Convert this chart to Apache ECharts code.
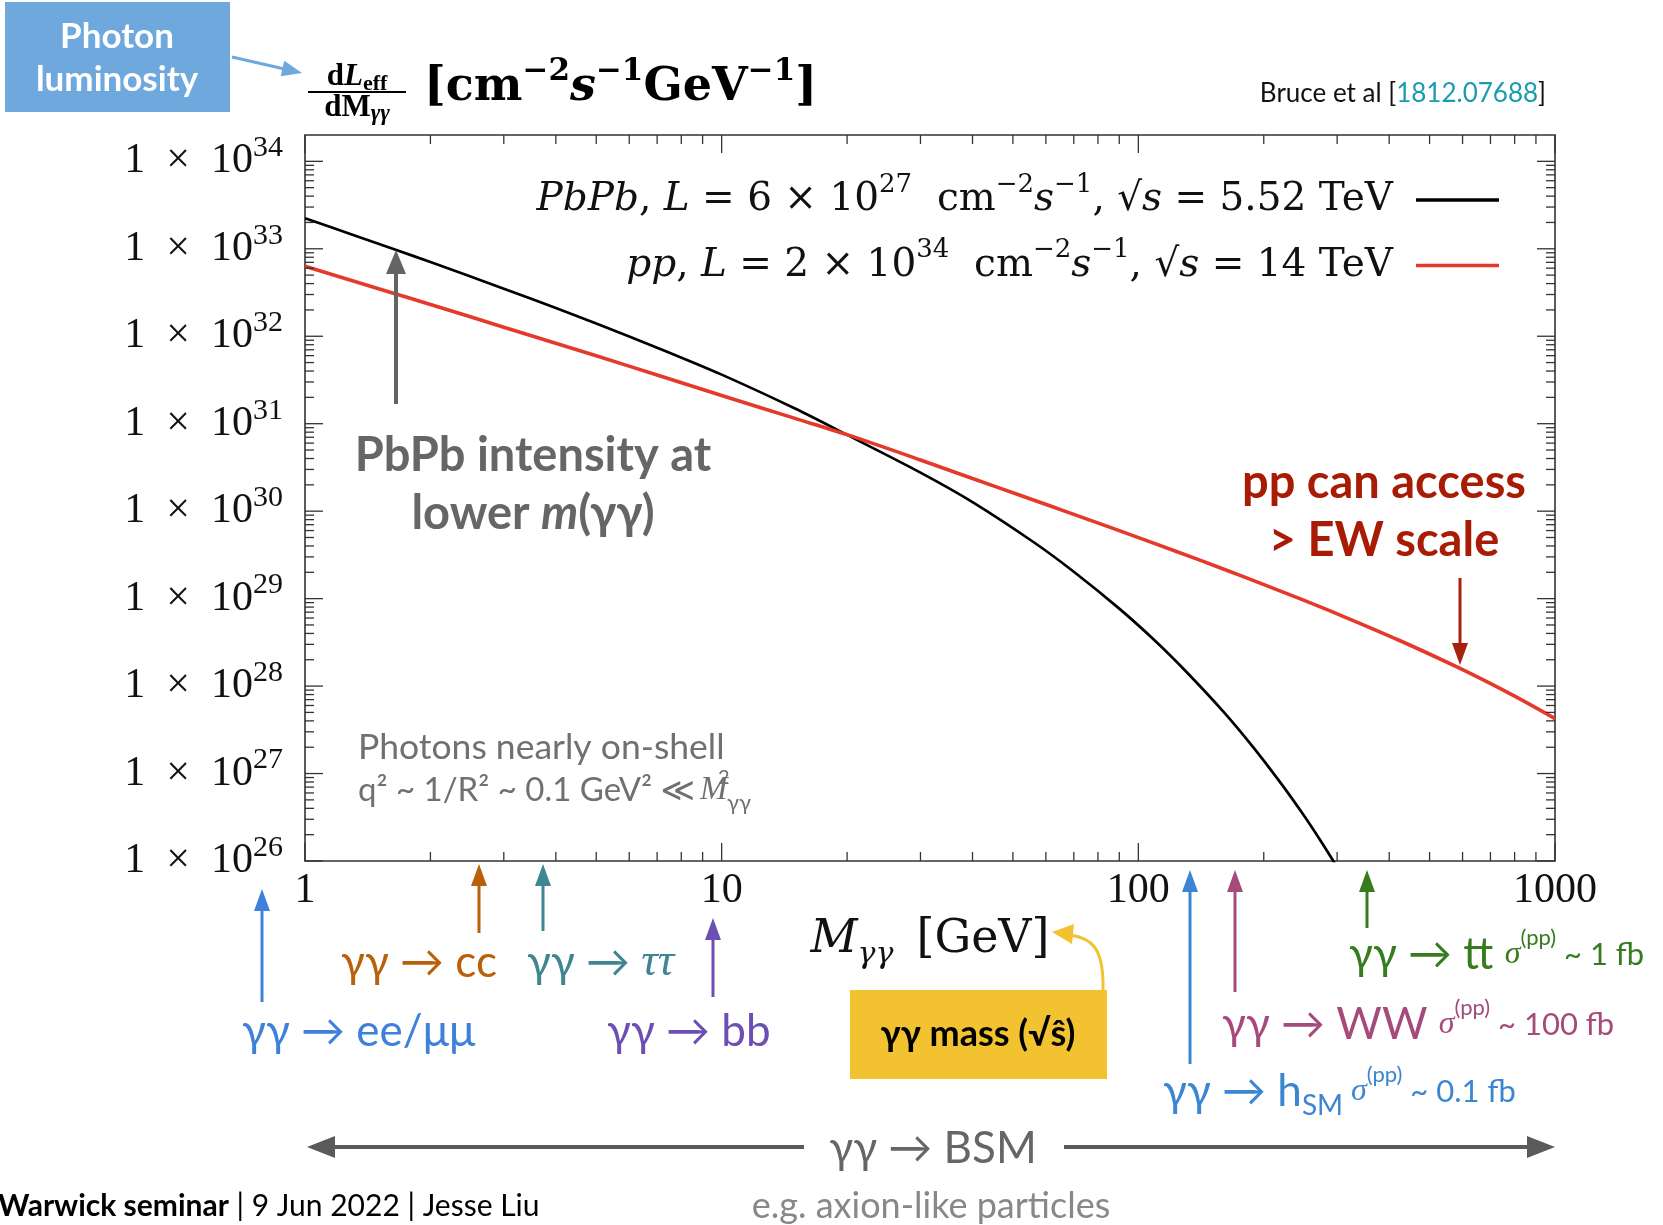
<!DOCTYPE html>
<html><head><meta charset="utf-8">
<script src="https://cdn.jsdelivr.net/npm/echarts@6.0.0/dist/echarts.min.js"></script>
<style>html,body{margin:0;padding:0;background:#fff}#c{width:1663px;height:1225px}</style>
</head><body><div id="c"></div>
<script>
// ---------- data ----------
const massPbPb = [1, 1.3, 1.65, 2, 3, 4, 5, 7, 10, 15, 20, 30, 40, 56, 70, 90, 110, 130, 160, 189, 220, 249, 275, 296, 320];
const lumiPbPb = [2.24e33, 1.45e33, 9.75e32, 7.05e32, 3.50e32, 2.10e32, 1.40e32, 7.40e31, 3.64e31, 1.49e31, 7.45e30, 2.76e30, 1.27e30, 4.44e29, 2.03e29, 7.69e28, 3.26e28, 1.48e28, 5.11e27, 1.98e27, 7.71e26, 3.37e26, 1.65e26, 9.44e25, 5.15e25];
const massPP = [1, 1.6, 2, 3, 5, 7, 10, 15, 20, 30, 40, 52, 70, 108, 140, 180, 244, 305, 425, 590, 800, 1000];
const lumiPP = [6.31e32, 3.19e32, 2.31e32, 1.27e32, 5.97e31, 3.61e31, 2.10e31, 1.15e31, 7.50e30, 3.85e30, 2.36e30, 1.52e30, 9.20e29, 4.37e29, 2.77e29, 1.76e29, 1.00e29, 6.49e28, 3.30e28, 1.60e28, 7.67e27, 4.25e27];
const xTickValues = [1, 10, 100, 1000];
const xTickLabels = ['1', '10', '100', '1000'];
const yTickExponents = [26, 27, 28, 29, 30, 31, 32, 33, 34];
const seriesNames = ['PbPb', 'pp'];

const xMinorTicks = [];
for (let k = 0; k < 3; k++) for (let m = 2; m <= 9; m++) xMinorTicks.push(m * Math.pow(10, k));
const yMajorTicks = yTickExponents.map(e => Math.pow(10, e));
const yMinorTicks = [];
for (let k = 26; k < 34; k++) for (let m = 2; m <= 9; m++) yMinorTicks.push(m * Math.pow(10, k));

const SERIF = "'Liberation Serif','DejaVu Serif',serif";
const DSERIF = "'DejaVu Serif','Liberation Serif',serif";
const SANS = "Lato,'Noto Sans','DejaVu Sans',sans-serif";
const EN = '\u2002';

function isPow10(v) { const e = Math.log10(v); return Math.abs(e - Math.round(e)) < 1e-6; }

function tickSeries(dim, majors, minors) {
  const raw = majors.map(v => [v, 1]).concat(minors.map(v => [v, 0]));
  return {
    type: 'custom', silent: true, z: 5,
    data: raw.map(d => dim === 'x' ? [d[0], 1e30, d[1]] : [10, d[0], d[1]]),
    encode: { x: 0, y: 1 },
    renderItem: function (params, api) {
      const cs = params.coordSys;
      const p = api.coord([api.value(0), api.value(1)]);
      const len = api.value(2) ? 18 : 9;
      const st = { stroke: '#333', lineWidth: 1.3 };
      if (dim === 'x') {
        return { type: 'group', children: [
          { type: 'line', shape: { x1: p[0], y1: cs.y + cs.height, x2: p[0], y2: cs.y + cs.height - len }, style: st },
          { type: 'line', shape: { x1: p[0], y1: cs.y, x2: p[0], y2: cs.y + len }, style: st }
        ]};
      }
      return { type: 'group', children: [
        { type: 'line', shape: { x1: cs.x, y1: p[1], x2: cs.x + len, y2: p[1] }, style: st },
        { type: 'line', shape: { x1: cs.x + cs.width, y1: p[1], x2: cs.x + cs.width - len, y2: p[1] }, style: st }
      ]};
    }
  };
}

function arrow(x1, y1, x2, y2, color, w, hl, hw) {
  const dx = x2 - x1, dy = y2 - y1, L = Math.hypot(dx, dy), ux = dx / L, uy = dy / L;
  const bx = x2 - ux * hl, by = y2 - uy * hl, px = -uy, py = ux;
  return [
    { type: 'line', z: 20, shape: { x1: x1, y1: y1, x2: bx + ux, y2: by + uy }, style: { stroke: color, lineWidth: w } },
    { type: 'polygon', z: 20, shape: { points: [[x2, y2], [bx + px * hw / 2, by + py * hw / 2], [bx - px * hw / 2, by - py * hw / 2]] }, style: { fill: color } }
  ];
}
function txt(x, y, text, opt) {
  return { type: 'text', z: 20, x: x, y: y, style: Object.assign({ text: text, align: 'left', verticalAlign: 'middle', fill: '#000', fontFamily: SANS, fontSize: 32 }, opt) };
}
function rtxt(x, y, text, rich, align) {
  return { type: 'text', z: 20, x: x, y: y, style: { text: text, align: align || 'left', verticalAlign: 'middle', rich: rich } };
}

const legendRich = {
  r: { fontFamily: DSERIF, fontSize: 39, color: '#111', lineHeight: 56 },
  i: { fontFamily: DSERIF, fontSize: 39, fontStyle: 'italic', color: '#111', lineHeight: 56 },
  s: { fontFamily: DSERIF, fontSize: 26, color: '#111', verticalAlign: 'top', lineHeight: 30 }
};
const legendText = {
  PbPb: '{i|PbPb}{r|, }{i|L}{r| = 6 × 10}{s|27}{r|  cm}{s|−2}{i|s}{s|−1}{r|, √}{i|s}{r| = 5.52 TeV}',
  pp: '{i|pp}{r|, }{i|L}{r| = 2 × 10}{s|34}{r|  cm}{s|−2}{i|s}{s|−1}{r|, √}{i|s}{r| = 14 TeV}'
};

function procRich(color) {
  return {
    m: { fontFamily: SANS, fontSize: 44, fill: color, lineHeight: 56 },
    gi: { fontFamily: SERIF, fontStyle: 'italic', fontSize: 46, fill: color, lineHeight: 56 },
    sub: { fontFamily: SANS, fontSize: 28, fill: color, verticalAlign: 'bottom', lineHeight: 34 },
    g: { fontFamily: SERIF, fontStyle: 'italic', fontSize: 32, fill: color, lineHeight: 56 },
    p: { fontFamily: SANS, fontSize: 22, fill: color, verticalAlign: 'top', lineHeight: 34 },
    t: { fontFamily: SANS, fontSize: 31, fill: color, lineHeight: 56 }
  };
}

const graphics = [];
// Photon luminosity box
graphics.push({ type: 'rect', z: 20, shape: { x: 5, y: 2, width: 225, height: 110 }, style: { fill: '#6fa8dc' } });
graphics.push(txt(117, 37, 'Photon', { align: 'center', fill: '#fff', fontWeight: 'bold', fontSize: 35 }));
graphics.push(txt(117, 80, 'luminosity', { align: 'center', fill: '#fff', fontWeight: 'bold', fontSize: 35 }));
graphics.push(...arrow(232, 57, 302, 73, '#6fa8dc', 3, 20, 16));
// y-axis title (fraction)
graphics.push(rtxt(357, 77, '{b|d}{bi|L}{bs|eff}', {
  b: { fontFamily: SERIF, fontWeight: 'bold', fontSize: 31, lineHeight: 36, fill: '#000' },
  bi: { fontFamily: SERIF, fontWeight: 'bold', fontStyle: 'italic', fontSize: 31, lineHeight: 36, fill: '#000' },
  bs: { fontFamily: SERIF, fontWeight: 'bold', fontSize: 22, verticalAlign: 'bottom', lineHeight: 26, fill: '#000' } }, 'center'));
graphics.push({ type: 'line', z: 20, shape: { x1: 308, y1: 92, x2: 406, y2: 92 }, style: { stroke: '#000', lineWidth: 2 } });
graphics.push(rtxt(357, 108, '{b|dM}{bs|γγ}', {
  b: { fontFamily: SERIF, fontWeight: 'bold', fontSize: 31, lineHeight: 36, fill: '#000' },
  bs: { fontFamily: SERIF, fontWeight: 'bold', fontStyle: 'italic', fontSize: 23, verticalAlign: 'bottom', lineHeight: 26, fill: '#000' } }, 'center'));
graphics.push(rtxt(424, 88, '{b|[cm}{s|−2}{bi|s}{s|−1}{b|GeV}{s|−1}{b|]}', {
  b: { fontFamily: DSERIF, fontWeight: 'bold', fontSize: 46, lineHeight: 64, fill: '#000' },
  bi: { fontFamily: DSERIF, fontWeight: 'bold', fontStyle: 'italic', fontSize: 46, lineHeight: 64, fill: '#000' },
  s: { fontFamily: DSERIF, fontWeight: 'bold', fontSize: 31, verticalAlign: 'top', lineHeight: 38, fill: '#000' } }));
// Bruce et al
graphics.push(rtxt(1546, 94, '{k|Bruce et al [}{b|1812.07688}{k|]}', {
  k: { fontFamily: SANS, fontSize: 26, fill: '#111' }, b: { fontFamily: SANS, fontSize: 26, fill: '#1a9bb0' } }, 'right'));
// PbPb intensity
graphics.push(txt(533, 456, 'PbPb intensity at', { align: 'center', fill: '#666', fontWeight: 'bold', fontSize: 47 }));
graphics.push(rtxt(533, 514, '{a|lower }{b|m}{a|(γγ)}', {
  a: { fontFamily: SANS, fontWeight: 'bold', fontSize: 47, fill: '#666' },
  b: { fontFamily: SANS, fontWeight: 'bold', fontStyle: 'italic', fontSize: 47, fill: '#666' } }, 'center'));
graphics.push(...arrow(396, 404, 396, 250, '#646464', 4, 24, 20));
// photons nearly on-shell
graphics.push(txt(358, 748, 'Photons nearly on-shell', { fill: '#707070', fontSize: 35.5 }));
graphics.push(txt(358, 790, 'q² ~ 1/R² ~ 0.1 GeV² ≪', { fill: '#707070', fontSize: 33 }));
graphics.push(txt(700, 790, 'M', { fill: '#707070', fontSize: 33, fontFamily: SERIF, fontStyle: 'italic' }));
graphics.push(txt(718, 778, '2', { fill: '#707070', fontSize: 20 }));
graphics.push(txt(727, 803, 'γγ', { fill: '#707070', fontSize: 22 }));
// pp can access
graphics.push(txt(1384, 483, 'pp can access', { align: 'center', fill: '#a81c06', fontWeight: 'bold', fontSize: 47 }));
graphics.push(txt(1384, 541, '> EW scale', { align: 'center', fill: '#a81c06', fontWeight: 'bold', fontSize: 47 }));
graphics.push(...arrow(1460, 578, 1460, 665, '#a8200e', 3, 22, 16));
// process arrows below the axis
const procs = [
  { x: 262, y0: 1002, y1: 889, c: '#3e80da' },
  { x: 479, y0: 933, y1: 864, c: '#b9600a' },
  { x: 543, y0: 931, y1: 864, c: '#3f8592' },
  { x: 713, y0: 997, y1: 918, c: '#6b4fb3' },
  { x: 1190, y0: 1064, y1: 870, c: '#3a86d3' },
  { x: 1235, y0: 992, y1: 870, c: '#a64a7b' },
  { x: 1367, y0: 928, y1: 870, c: '#367b1e' }
];
procs.forEach(p => graphics.push(...arrow(p.x, p.y0, p.x, p.y1, p.c, 3, 22, 16)));
graphics.push(rtxt(341, 963, '{m|γγ → cc}', procRich('#b9600a')));
graphics.push(rtxt(527, 963, '{m|γγ → }{gi|ττ}', procRich('#3f8592')));
graphics.push(rtxt(242, 1032, '{m|γγ → ee/μμ}', procRich('#3e80da')));
graphics.push(rtxt(607, 1032, '{m|γγ → bb}', procRich('#6b4fb3')));
graphics.push(rtxt(1349, 955, '{m|γγ → tt }{g|σ}{p|(pp)}{t| ~ 1 fb}', procRich('#367b1e')));
graphics.push(rtxt(1222, 1025, '{m|γγ → WW }{g|σ}{p|(pp)}{t| ~ 100 fb}', procRich('#a64a7b')));
graphics.push(rtxt(1163, 1092, '{m|γγ → h}{sub|SM}{t| }{g|σ}{p|(pp)}{t| ~ 0.1 fb}', procRich('#3a86d3')));
// yellow box
graphics.push({ type: 'rect', z: 20, shape: { x: 850, y: 990, width: 257, height: 89 }, style: { fill: '#f2c230' } });
graphics.push(txt(978, 1034, 'γγ mass (√ŝ)', { align: 'center', fill: '#000', fontWeight: 'bold', fontSize: 36 }));
graphics.push({ type: 'bezierCurve', z: 20, shape: { x1: 1103, y1: 990, cpx1: 1104, cpy1: 948, cpx2: 1092, cpy2: 938, x2: 1070, y2: 935 }, style: { stroke: '#f2c230', lineWidth: 3, fill: null } });
graphics.push({ type: 'polygon', z: 20, shape: { points: [[1052, 932], [1074, 924], [1072, 944]] }, style: { fill: '#f2c230' } });
// BSM
graphics.push(txt(933, 1149, 'γγ → BSM', { align: 'center', fill: '#666', fontSize: 44 }));
graphics.push(...arrow(804, 1147, 307, 1147, '#5a5a5a', 4, 28, 22));
graphics.push(...arrow(1064, 1147, 1555, 1147, '#5a5a5a', 4, 28, 22));
graphics.push(txt(931, 1206, 'e.g. axion-like particles', { align: 'center', fill: '#888', fontSize: 36 }));
// footer
graphics.push(rtxt(-2, 1206, '{b|Warwick seminar}{r| | 9 Jun 2022 | Jesse Liu}', {
  b: { fontFamily: SANS, fontWeight: 'bold', fontSize: 30, fill: '#000' }, r: { fontFamily: SANS, fontSize: 30, fill: '#000' } }));

const chart = echarts.init(document.getElementById('c'), null, { renderer: 'canvas' });
chart.setOption({
  animation: false,
  backgroundColor: '#fff',
  grid: { left: 305, top: 135, width: 1250, height: 726, show: true, borderColor: '#333', borderWidth: 1.6, backgroundColor: 'transparent' },
  legend: {
    data: seriesNames, orient: 'vertical', right: 164, top: 172, align: 'right', padding: 0,
    itemWidth: 83, itemHeight: 3.5, itemGap: 18, icon: 'rect',
    formatter: name => legendText[name],
    textStyle: { rich: legendRich, padding: [0, 18, 0, 0] }
  },
  xAxis: {
    type: 'log', logBase: 10, min: 1, max: 1000,
    axisLine: { show: false }, axisTick: { show: false }, splitLine: { show: false }, minorTick: { show: false },
    axisLabel: {
      margin: 9, color: '#111', fontFamily: SERIF, fontSize: 42,
      formatter: v => { const i = xTickValues.findIndex(t => Math.abs(Math.log10(t) - Math.log10(v)) < 1e-6); return i >= 0 ? xTickLabels[i] : ''; }
    },
    name: '{m|M}{s|γγ}{r|' + EN + '[GeV]}', nameLocation: 'middle', nameGap: 47,
    nameTextStyle: { rich: {
      m: { fontFamily: DSERIF, fontStyle: 'italic', fontSize: 46, color: '#111', lineHeight: 60 },
      s: { fontFamily: DSERIF, fontStyle: 'italic', fontSize: 30, color: '#111', verticalAlign: 'bottom', lineHeight: 40 },
      r: { fontFamily: DSERIF, fontSize: 46, color: '#111', lineHeight: 60 } } }
  },
  yAxis: {
    type: 'log', logBase: 10, min: 1e26, max: 2e34, splitNumber: 10,
    axisLine: { show: false }, axisTick: { show: false }, splitLine: { show: false }, minorTick: { show: false },
    axisLabel: {
      margin: 22,
      formatter: v => { if (!isPow10(v)) return ''; const e = Math.round(Math.log10(v)); return yTickExponents.indexOf(e) >= 0 ? '{b|1' + EN + '×' + EN + '10}{s|' + e + '}' : ''; },
      rich: {
        b: { fontFamily: SERIF, fontSize: 42, color: '#111', lineHeight: 56 },
        s: { fontFamily: SERIF, fontSize: 30, color: '#111', verticalAlign: 'top', lineHeight: 30 }
      }
    }
  },
  series: [
    { name: 'PbPb', type: 'line', data: massPbPb.map((m, i) => [m, lumiPbPb[i]]), showSymbol: false, smooth: 0.3, clip: true,
      lineStyle: { color: '#000', width: 2.7 }, itemStyle: { color: '#000' }, z: 3 },
    { name: 'pp', type: 'line', data: massPP.map((m, i) => [m, lumiPP[i]]), showSymbol: false, smooth: 0.3, clip: true,
      lineStyle: { color: '#e5392b', width: 3.6 }, itemStyle: { color: '#e5392b' }, z: 4 },
    tickSeries('x', xTickValues, xMinorTicks),
    tickSeries('y', yMajorTicks, yMinorTicks)
  ],
  graphic: { elements: graphics }
});
</script></body></html>
